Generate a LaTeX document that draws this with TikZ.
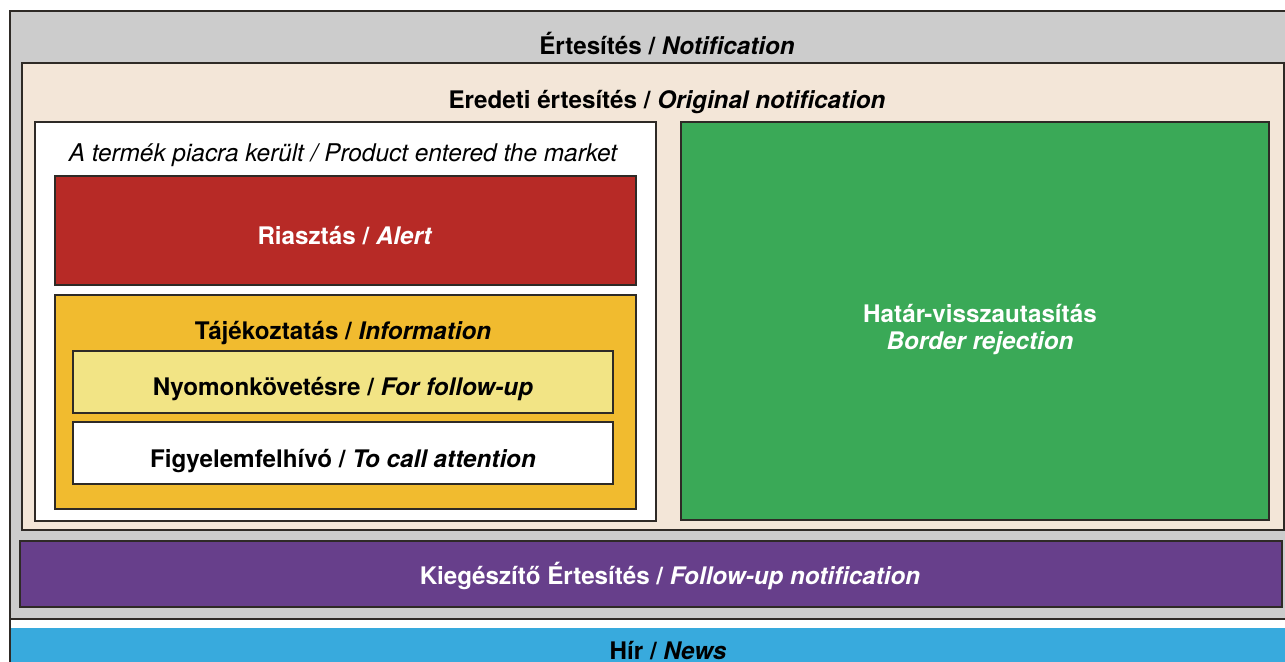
\documentclass[tikz,border=0pt]{standalone}
\usepackage{fontspec}
\setmainfont{TeX Gyre Heros}
\definecolor{cgray}{HTML}{CCCCCC}
\definecolor{cbeige}{HTML}{F3E6D8}
\definecolor{cred}{HTML}{B72A26}
\definecolor{cyellow}{HTML}{F1BB2F}
\definecolor{clyellow}{HTML}{F2E485}
\definecolor{cgreen}{HTML}{3AA957}
\definecolor{cpurple}{HTML}{673F8B}
\definecolor{cblue}{HTML}{38AADD}
\definecolor{cline}{HTML}{2E2A26}
\tikzset{
  box/.style={draw=cline, line width=0.7pt},
  lbl/.style={anchor=base, inner sep=0pt, font=\fontsize{12.1}{14}\selectfont\bfseries},
  ilbl/.style={anchor=base, inner sep=0pt, font=\fontsize{12.2}{14}\selectfont\itshape},
}
\begin{document}
\begin{tikzpicture}[x=0.5pt,y=-0.5pt]
\useasboundingbox (0,0) rectangle (1285,662);
% outer notification box
\fill[cgray] (10,11) rectangle (1290,619);
\draw[box] (1290,11) -- (10,11) -- (10,662);
\draw[box] (10,619) -- (1290,619);
% news
\fill[cblue] (11,628) rectangle (1290,666);
% original notification
\draw[box, fill=cbeige] (22,63) rectangle (1284,530);
% product entered market
\draw[box, fill=white] (35,122) rectangle (656,521);
% border rejection
\draw[box, fill=cgreen] (681,122) rectangle (1269,520);
% alert
\draw[box, fill=cred] (55,176) rectangle (636,285);
% information
\draw[box, fill=cyellow] (55,295) rectangle (636,509);
\draw[box, fill=clyellow] (73,351) rectangle (613,413);
\draw[box, fill=white] (73,422) rectangle (613,484);
% follow-up
\draw[box, fill=cpurple] (20,541) rectangle (1282,607);

\node[lbl] (t1) at (667,54.5) {Értesítés / \textit{Notification}};
\node[lbl] (t2) at (667,108.5) {Eredeti értesítés / \textit{Original notification}};
\node[ilbl] (t3) at (343,161.5) {A termék piacra került / Product entered the market};
\node[lbl, text=white] (t4) at (345,244.5) {Riasztás / \textit{Alert}};
\node[lbl] (t5) at (343,339.5) {Tájékoztatás / \textit{Information}};
\node[lbl] (t6) at (343,395.5) {Nyomonkövetésre / \textit{For follow-up}};
\node[lbl] (t7) at (343,467.5) {Figyelemfelhívó / \textit{To call attention}};
\node[lbl, text=white] (t8) at (980,322.5) {Határ-visszautasítás};
\node[lbl, text=white] (t9) at (980,349.5) {\textit{Border rejection}};
\node[lbl, text=white] (t10) at (670,584) {Kiegészítő Értesítés / \textit{Follow-up notification}};
\node[lbl] (t11) at (668,659) {Hír / \textit{News}};
\end{tikzpicture}
\end{document}
